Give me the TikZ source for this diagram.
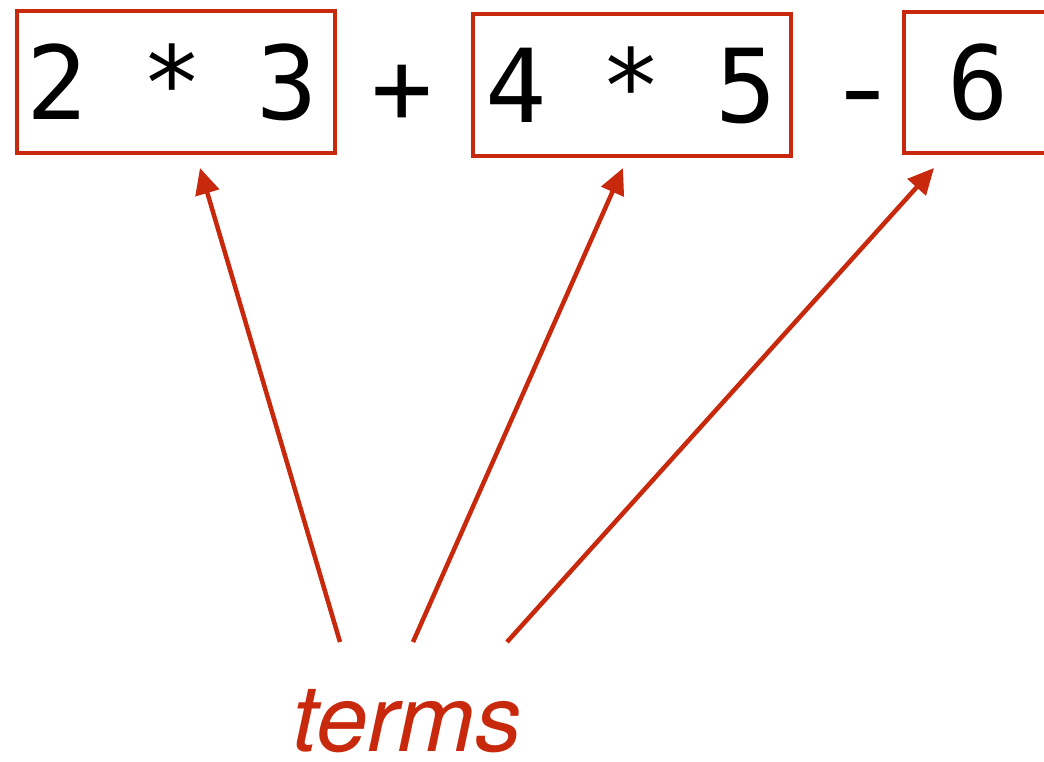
\documentclass[tikz,border=0pt]{standalone}
\usepackage{fontspec}
\setmainfont{TeX Gyre Heros}
\newfontfamily\monofont{DejaVu Sans Mono}
\newcommand\widesp{\spaceskip=53.6pt\relax\xspaceskip=53.6pt\relax}
\usetikzlibrary{arrows.meta}
\definecolor{termred}{RGB}{200,40,12}
\begin{document}
\begin{tikzpicture}[x=1pt,y=-1pt,
  box/.style={draw=termred,line width=4.5pt,minimum width=318pt,minimum height=142pt,inner sep=0pt,
    font=\monofont\fontsize{102}{102}\selectfont},
  op/.style={anchor=base,inner sep=0pt,font=\monofont\fontsize{102}{102}\selectfont},
  arr/.style={draw=termred,line width=4.5pt,-{Triangle[length=26pt,width=24pt]}},
  lbl/.style={anchor=base,inner sep=0pt,text=termred,font=\itshape\fontsize{93}{93}\selectfont}]
\useasboundingbox (0,0) rectangle (1044,761);
\clip (0,0) rectangle (1044,761);
\node[box] (b1) at (176,82) {\widesp\hspace*{-8pt}2 * 3};
\node[op] (plus) at (402,123) {+};
\node[box] (b2) at (632,85) {\widesp\hspace*{-2pt}4 * 5};
\node[op,xscale=1.25] (minus) at (863,123) {-};
\node[box,minimum width=148pt,minimum height=141pt] (b3) at (978,82.5) {6};
\node[lbl] (terms) at (407,751) {terms};
\coordinate (s1) at (340,642);
\coordinate (s2) at (413,642);
\coordinate (s3) at (507,642);
\coordinate (t1) at (200,168);
\coordinate (t2) at (623,168);
\coordinate (t3) at (934,168);
\draw[arr] (s1) -- (t1);
\draw[arr] (s2) -- (t2);
\draw[arr] (s3) -- (t3);
\end{tikzpicture}
\end{document}
